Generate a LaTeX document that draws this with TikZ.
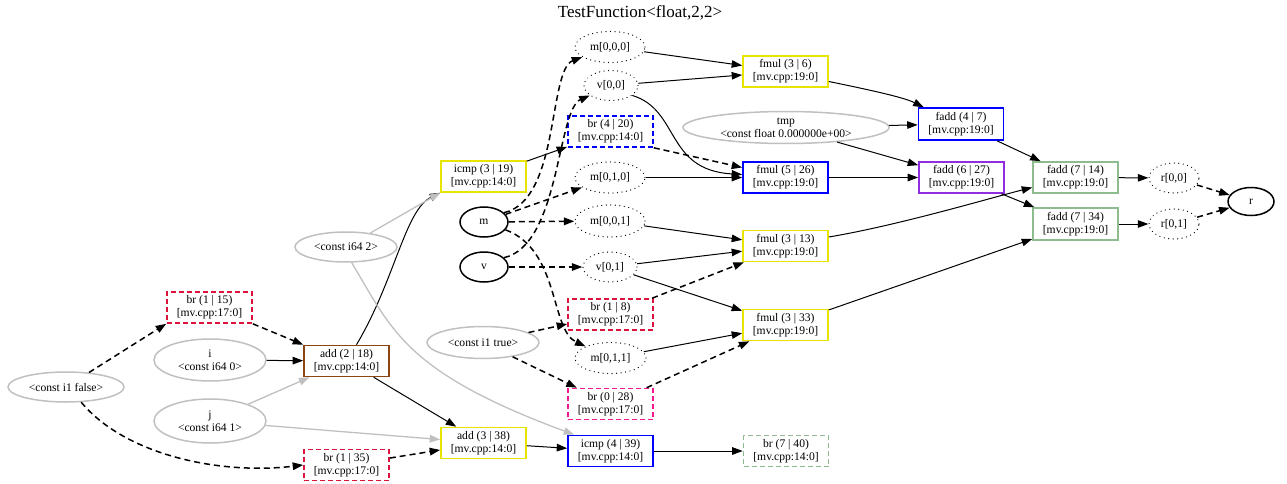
\documentclass[tikz,border=0pt]{standalone}
\usepackage{fontspec}
\setmainfont{Liberation Serif}
\usetikzlibrary{arrows.meta,shapes.geometric}

\definecolor{cyel}{RGB}{232,228,0}
\definecolor{ccrim}{RGB}{220,20,60}
\definecolor{cpink}{RGB}{255,20,147}
\definecolor{cblue}{RGB}{0,0,255}
\definecolor{cbrown}{RGB}{139,69,19}
\definecolor{cpurp}{RGB}{145,45,225}
\definecolor{cgreen}{RGB}{143,188,143}
\definecolor{cgray}{RGB}{192,192,192}

\newcommand\srcpos[1]{{[}mv.cpp:#1:0]}

\begin{document}
\begin{tikzpicture}[x=1pt,y=-1pt,
  lbl/.style={font=\fontsize{11.6}{13}\selectfont, align=center, inner sep=0pt},
  box/.style={lbl, rectangle, draw, line width=1.6pt, minimum width=85pt, minimum height=31pt},
  brk/.style={box, dash pattern=on 5pt off 3pt},
  val/.style={lbl, ellipse, draw=cgray, line width=1.5pt, inner ysep=-5pt},
  arg/.style={lbl, ellipse, draw, line width=1.5pt},
  elt/.style={lbl, ellipse, draw, line width=1.3pt, dash pattern=on 0.01pt off 4.5pt, line cap=round},
  edge/.style={line width=1pt, -{Triangle[length=10.5pt,width=7.5pt]}},
  ctl/.style={edge, line width=1.5pt, dash pattern=on 6pt off 4pt},
  cst/.style={edge, draw=cgray, line width=1.3pt}
]
\useasboundingbox (0,0) rectangle (1287,484);

\node[lbl, font=\fontsize{17}{20}\selectfont] (title) at (640,13) {TestFunction<float,2,2>};

% constants and arguments
\node[val, minimum width=116pt, minimum height=30pt] (cfalse) at (66,387) {<const i1 false>};
\node[val, minimum width=112pt, minimum height=42pt] (ci0) at (210,360) {i\\<const i64 0>};
\node[val, minimum width=112pt, minimum height=44pt] (ci1) at (210,421) {j\\<const i64 1>};
\node[val, minimum width=102pt, minimum height=30pt] (ci642) at (346,247) {<const i64 2>};
\node[val, minimum width=112pt, minimum height=32pt] (ctrue) at (483,342.5) {<const i1 true>};
\node[val, minimum width=206pt, minimum height=32pt] (tmp) at (786,127.5) {tmp\\<const float 0.000000e+00>};
\node[arg, minimum width=48pt, minimum height=30pt] (m) at (484,222) {m};
\node[arg, minimum width=48pt, minimum height=30pt] (v) at (484,267) {v};
\node[arg, minimum width=46pt, minimum height=28pt] (r) at (1251,201.5) {r};

% element accesses
\node[elt, minimum width=70pt, minimum height=31pt] (m000) at (610,47) {m[0,0,0]};
\node[elt, minimum width=54pt, minimum height=30pt] (v00) at (611,85.5) {v[0,0]};
\node[elt, minimum width=70pt, minimum height=31pt] (m010) at (610,177.5) {m[0,1,0]};
\node[elt, minimum width=70pt, minimum height=32pt] (m001) at (610,221) {m[0,0,1]};
\node[elt, minimum width=54pt, minimum height=30pt] (v01) at (610,267) {v[0,1]};
\node[elt, minimum width=71pt, minimum height=31pt] (m011) at (610.5,358) {m[0,1,1]};
\node[elt, minimum width=50pt, minimum height=30pt] (r00) at (1174,178) {r[0,0]};
\node[elt, minimum width=50pt, minimum height=30pt] (r01) at (1174,224) {r[0,1]};

% instructions
\node[brk, draw=ccrim] (br115) at (209.5,307.5) {br (1 | 15)\\\srcpos{17}};
\node[box, draw=cbrown] (add218) at (346.5,361) {add (2 | 18)\\\srcpos{14}};
\node[brk, draw=ccrim] (br135) at (346.5,465) {br (1 | 35)\\\srcpos{17}};
\node[box, draw=cyel] (icmp319) at (483.5,176.5) {icmp (3 | 19)\\\srcpos{14}};
\node[box, draw=cyel] (add338) at (483.5,443) {add (3 | 38)\\\srcpos{14}};
\node[brk, draw=cblue] (br420) at (610.5,131.5) {br (4 | 20)\\\srcpos{14}};
\node[brk, draw=ccrim] (br18) at (610.5,314.5) {br (1 | 8)\\\srcpos{17}};
\node[brk, draw=cpink] (br028) at (610.5,404) {br (0 | 28)\\\srcpos{17}};
\node[box, draw=cblue] (icmp439) at (610.5,451) {icmp (4 | 39)\\\srcpos{14}};
\node[brk, draw=cgreen] (br740) at (786,451) {br (7 | 40)\\\srcpos{14}};
\node[box, draw=cyel] (fmul36) at (785.5,71.5) {fmul (3 | 6)\\\srcpos{19}};
\node[box, draw=cblue] (fmul526) at (785.5,177.5) {fmul (5 | 26)\\\srcpos{19}};
\node[box, draw=cyel] (fmul313) at (785.5,246) {fmul (3 | 13)\\\srcpos{19}};
\node[box, draw=cyel] (fmul333) at (785.5,325) {fmul (3 | 33)\\\srcpos{19}};
\node[box, draw=cblue, minimum height=32pt] (fadd47) at (961,124) {fadd (4 | 7)\\\srcpos{19}};
\node[box, draw=cpurp] (fadd627) at (961.5,177.5) {fadd (6 | 27)\\\srcpos{19}};
\node[box, draw=cgreen] (fadd714) at (1075.5,177.5) {fadd (7 | 14)\\\srcpos{19}};
\node[box, draw=cgreen, minimum height=32pt] (fadd734) at (1075.5,224) {fadd (7 | 34)\\\srcpos{19}};

% control and data edges, left part
\draw[ctl] (cfalse) -- (br115.south west);
\draw[ctl] (cfalse.-45) .. controls (125,455) and (220,475) .. (br135.west);
\draw[ctl] (br115.south east) -- (add218.north west);
\draw[edge] (ci0) -- (add218);
\draw[cst] (ci1) -- (add218);
\draw[cst] (ci1) -- (add338);
\draw[ctl] (br135) -- (add338);
\draw[edge] (add218) -- (add338);
\draw[edge] ([xshift=10pt]add218.north) .. controls (395,280) and (405,210) .. (icmp319.south west);
\draw[cst] (ci642) -- (icmp319.south west);
\draw[cst] (ci642.-70) .. controls (392,330) and (405,372) .. ([xshift=7pt]icmp439.north west);
\draw[edge] (add338) -- (icmp439);
\draw[edge] (icmp439) -- (br740);
\draw[edge] (icmp319) -- (br420);

% element loads
\draw[ctl] (m.25) .. controls (560,200) and (548,70) .. (m000.200);
\draw[ctl] (v.25) .. controls (560,245) and (557,110) .. (v00.205);
\draw[ctl] (m.-20) .. controls (560,250) and (550,330) .. (m011.155);
\draw[ctl] (m) -- (m010);
\draw[ctl] (m) -- (m001);
\draw[ctl] (v) -- (v01);
\draw[ctl] (ctrue) -- (br18);
\draw[ctl] (ctrue) -- (br028);

% multiplications
\draw[edge] (m000) -- (fmul36);
\draw[edge] (v00) -- (fmul36);
\draw[edge] (v00.-25) .. controls (680,110) and (665,170) .. ([yshift=3pt]fmul526.west);
\draw[ctl] (br420.south east) -- ([yshift=10pt]fmul526.west);
\draw[edge] (m010) -- (fmul526);
\draw[edge] (m001) -- (fmul313);
\draw[edge] (v01) -- (fmul313);
\draw[ctl] (br18) -- (fmul313);
\draw[edge] (v01) -- (fmul333);
\draw[edge] (m011) -- (fmul333);
\draw[ctl] (br028) -- (fmul333);

% additions and results
\draw[edge] ([yshift=-10pt]fmul36.east) .. controls (880,92) and (905,98) .. ([xshift=6pt]fadd47.north west);
\draw[edge] (tmp) -- (fadd47);
\draw[edge] (tmp) -- (fadd627);
\draw[edge] (fmul526) -- (fadd627);
\draw[edge] (fadd47) -- (fadd714);
\draw[edge] (fadd627) -- (fadd734);
\draw[edge] ([yshift=9pt]fmul313.east) .. controls (900,225) and (990,198) .. ([yshift=-10pt]fadd714.west);
\draw[edge] (fmul333) -- (fadd734);
\draw[edge] (fadd714) -- (r00);
\draw[edge] (fadd734) -- (r01);
\draw[ctl] (r00) -- (r);
\draw[ctl] (r01) -- (r);
\end{tikzpicture}
\end{document}
